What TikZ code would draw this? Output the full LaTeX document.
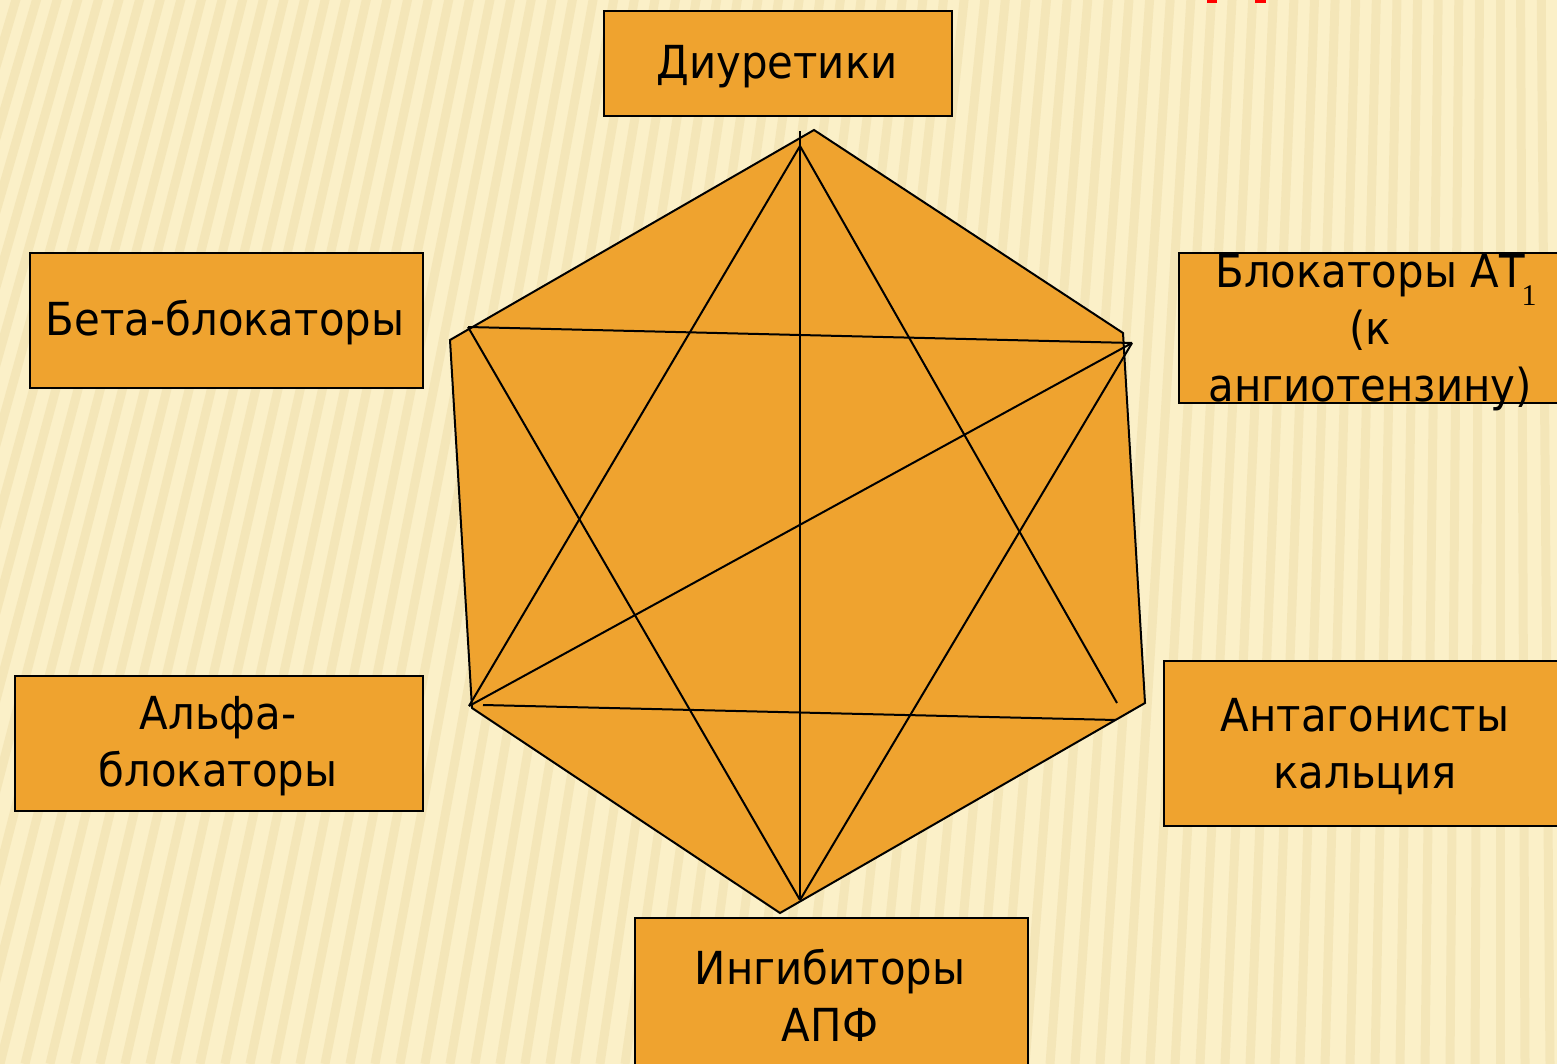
\documentclass[tikz,border=0pt]{standalone}
\usepackage{fontspec}
\setmainfont{DejaVu Sans}[FakeStretch=0.92]
\newfontfamily\subfont{Liberation Serif}
\definecolor{bgcream}{HTML}{FBF0C8}
\definecolor{bgstripe}{HTML}{E6D096}
\definecolor{boxorange}{HTML}{EFA32F}
\tikzset{
  boxnode/.style={draw=black, line width=1.6pt, fill=boxorange, inner sep=0pt, anchor=north west},
  labelnode/.style={align=center, font=\fontsize{45.5}{57}\selectfont, inner sep=0pt},
  edge/.style={draw=black, line width=2pt, line join=miter},
}
\begin{document}
\begin{tikzpicture}[x=1pt,y=-1pt]
\useasboundingbox (0,0) rectangle (1557,1064);
\fill[bgcream] (0,0) rectangle (1557,1064);
\begin{scope}
\clip (0,0) rectangle (1557,1064);
\foreach \i in {0,...,80} {
  \draw[bgstripe, line width=9pt, opacity=0.3] (1500,-5000) -- ({-300+25*\i},1064);
}
\end{scope}
% red fragments of a cut-off title
\fill[red] (1207,0) rectangle (1217,3.5);
\fill[red] (1255,0) rectangle (1266,3.5);
% boxes
\node[boxnode, minimum width=348pt, minimum height=105pt] (diur) at (603,10) {};
\node[boxnode, minimum width=393pt, minimum height=135pt] (beta) at (29,252) {};
\node[boxnode, minimum width=400pt, minimum height=150pt] (at1) at (1178,252) {};
\node[boxnode, minimum width=408pt, minimum height=135pt] (alfa) at (14,675) {};
\node[boxnode, minimum width=404pt, minimum height=165pt] (anta) at (1163,660) {};
\node[boxnode, minimum width=393pt, minimum height=160pt] (ingi) at (634,917) {};
% labels
\node[labelnode] (tdiur) at (777,67) {Диуретики};
\node[labelnode] (tbeta) at (225,323) {Бета-блокаторы};
\node[labelnode] (tat1) at (1370,333) {Блокаторы АТ\\(к\\ангиотензину)};
\node[anchor=base, inner sep=0pt, font=\subfont\fontsize{30}{30}\selectfont] (sub) at (1529,306) {1};
\node[labelnode] (talfa) at (218,746) {Альфа-\\блокаторы};
\node[labelnode] (tanta) at (1365,747) {Антагонисты\\кальция};
\node[labelnode] (tingi) at (830,995) {Ингибиторы\\АПФ};
% hexagon
\coordinate (h1) at (814,130);
\coordinate (h2) at (1123,333);
\coordinate (h3) at (1145,703);
\coordinate (h4) at (780,913);
\coordinate (h5) at (472,708);
\coordinate (h6) at (450,340);
\filldraw[edge, fill=boxorange] (h1) -- (h2) -- (h3) -- (h4) -- (h5) -- (h6) -- cycle;
% inner points
\coordinate (vt) at (800,131);
\coordinate (vb) at (800,900);
\coordinate (ta) at (800,146);
\coordinate (ul) at (468,327);
\coordinate (ur) at (1132,343);
\coordinate (ll) at (469,706);
\coordinate (lr) at (1117,703);
\coordinate (bs) at (483,705);
\coordinate (be) at (1116,720);
\draw[edge] (vt) -- (vb);
\draw[edge] (ta) -- (ll);
\draw[edge] (ta) -- (lr);
\draw[edge] (bs) -- (be);
\draw[edge] (ul) -- (ur);
\draw[edge] (ul) -- (vb);
\draw[edge] (ur) -- (vb);
\draw[edge] (ur) -- (ll);
\end{tikzpicture}
\end{document}
